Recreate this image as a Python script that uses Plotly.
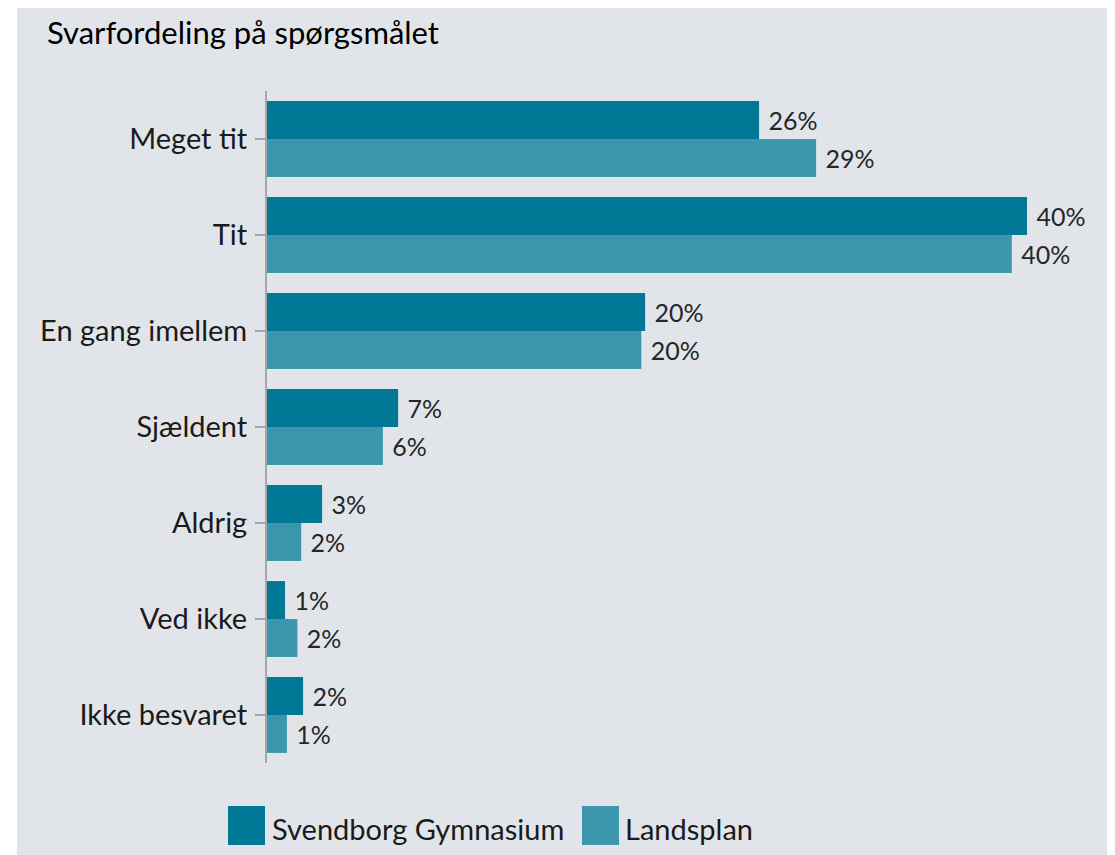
import plotly.graph_objects as go

# data
categories = ["Meget tit", "Tit", "En gang imellem", "Sjældent", "Aldrig", "Ved ikke", "Ikke besvaret"]
svendborg = [25.9, 40.0, 19.9, 6.9, 2.9, 0.95, 1.9]
landsplan = [28.9, 39.2, 19.7, 6.1, 1.8, 1.6, 1.05]
svendborg_labels = ["26%", "40%", "20%", "7%", "3%", "1%", "2%"]
landsplan_labels = ["29%", "40%", "20%", "6%", "2%", "2%", "1%"]

dark = "#007896"
light = "#3B96AE"
bg = "#E1E5E9"
font = "Lato"

fig = go.Figure()

fig.add_trace(go.Bar(
    y=categories, x=svendborg, orientation="h", name="Svendborg Gymnasium",
    marker=dict(color=dark, line=dict(width=0)),
    text=[" " + t for t in svendborg_labels], textposition="outside",
    textfont=dict(size=25, color="#262626", family=font),
    cliponaxis=False, showlegend=False
))
fig.add_trace(go.Bar(
    y=categories, x=landsplan, orientation="h", name="Landsplan",
    marker=dict(color=light, line=dict(width=0)),
    text=[" " + t for t in landsplan_labels], textposition="outside",
    textfont=dict(size=25, color="#262626", family=font),
    cliponaxis=False, showlegend=False
))

# page body adds an 8px offset; plot area on screen: x 267..1095, y 91..763
OFF = 8
W, H = 1115, 855
L, R, T, B = 259, 28, 83, 100
pw, ph = W - L - R, H - T - B

def px(x):
    return (x - OFF - L) / pw

def py(y):
    return (H - B - (y - OFF)) / ph

shapes = [
    # grey panel
    dict(type="rect", xref="paper", yref="paper", layer="below",
         x0=px(17), x1=px(1130), y0=py(870), y1=py(7),
         fillcolor=bg, line=dict(width=0)),
    # legend swatches
    dict(type="rect", xref="paper", yref="paper",
         x0=px(228), x1=px(265), y0=py(845), y1=py(806),
         fillcolor=dark, line=dict(width=0)),
    dict(type="rect", xref="paper", yref="paper",
         x0=px(582), x1=px(619), y0=py(845), y1=py(806),
         fillcolor=light, line=dict(width=0)),
]

annotations = [
    dict(text="Svendborg Gymnasium", xref="paper", yref="paper", x=px(270), y=py(828),
         xanchor="left", yanchor="middle", showarrow=False,
         font=dict(size=29, color="#1a1a1a", family=font)),
    dict(text="Landsplan", xref="paper", yref="paper", x=px(623), y=py(828),
         xanchor="left", yanchor="middle", showarrow=False,
         font=dict(size=29, color="#1a1a1a", family=font)),
]

fig.update_layout(
    width=W, height=H,
    margin=dict(l=L, r=R, t=T, b=B),
    paper_bgcolor="white", plot_bgcolor="rgba(0,0,0,0)",
    barmode="group", bargap=0.21, bargroupgap=0,
    title=dict(text="Svarfordeling på spørgsmålet", xref="container", yref="container",
               x=(47 - OFF) / W, y=1 - (33 - OFF) / H, xanchor="left", yanchor="middle",
               font=dict(size=31, color="#000000", family=font)),
    shapes=shapes, annotations=annotations,
    showlegend=False,
)

fig.update_xaxes(range=[0, pw / 19.0], visible=False, showgrid=False, zeroline=False)
fig.update_yaxes(
    type="category", categoryorder="array", categoryarray=categories,
    range=[6.5, -0.5], showgrid=False, zeroline=False,
    showline=True, linecolor="#A6A6A6", linewidth=2,
    ticks="outside", ticklen=10, tickcolor="#A6A6A6", tickwidth=2,
    tickfont=dict(size=29, color="#1a1a1a", family=font),
    ticklabelstandoff=2,
)

fig.write_html("out.html")
